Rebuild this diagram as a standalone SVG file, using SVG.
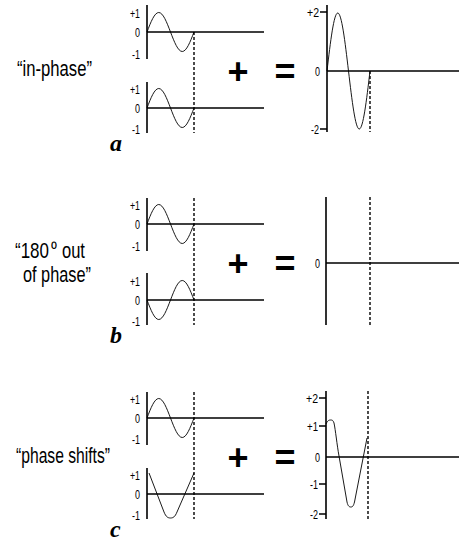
<svg xmlns="http://www.w3.org/2000/svg" xmlns:xlink="http://www.w3.org/1999/xlink" width="464" height="541" viewBox="0 0 464 541">
<style>
.ax{stroke:#000;stroke-width:1.6;fill:none}
.cv{stroke:#000;stroke-width:0.9;fill:none}
.ds{stroke:#000;stroke-width:1.4;stroke-dasharray:3 2;fill:none}
.lb{font-family:"Liberation Sans",Arial,sans-serif;font-size:13.5px;text-anchor:end;fill:#000}
.tt{font-family:"Liberation Sans",Arial,sans-serif;font-size:22.5px;fill:#000}
.sup{font-family:"Liberation Sans",Arial,sans-serif;font-size:17px;fill:#000}
.op{font-family:"Liberation Sans",Arial,sans-serif;font-weight:bold;font-size:36px;text-anchor:middle;fill:#000}
.lt{font-family:"Liberation Serif","Times New Roman",serif;font-weight:bold;font-style:italic;font-size:24px;fill:#000}
</style>
<defs>
<path id="sw" class="cv" d="M0,0 c3.83,-9.99 7.5,-19.5 11.75,-19.5 s7.92,9.51 11.75,19.5 s7.5,19.5 11.75,19.5 s7.92,-9.51 11.75,-19.5"/>
</defs>

<g id="panel-a">
  <text class="tt" transform="translate(17,76) scale(0.72,1)" textLength="104.2" lengthAdjust="spacingAndGlyphs">“in-phase”</text>
  <g id="a-wave1">
    <path class="ax" d="M147,5 V59 M147,32 H264"/>
    <use xlink:href="#sw" href="#sw" x="147" y="32"/>
    <text class="lb" x="140" y="18" textLength="10" lengthAdjust="spacingAndGlyphs">+1</text>
    <text class="lb" x="140" y="37" textLength="5" lengthAdjust="spacingAndGlyphs">0</text>
    <text class="lb" x="140" y="58.5" textLength="8" lengthAdjust="spacingAndGlyphs">-1</text>
  </g>
  <g id="a-wave2">
    <path class="ax" d="M147,82 V133 M147,108 H264"/>
    <use xlink:href="#sw" href="#sw" x="147" y="108"/>
    <text class="lb" x="140" y="94" textLength="10" lengthAdjust="spacingAndGlyphs">+1</text>
    <text class="lb" x="140" y="113" textLength="5" lengthAdjust="spacingAndGlyphs">0</text>
    <text class="lb" x="140" y="134" textLength="8" lengthAdjust="spacingAndGlyphs">-1</text>
  </g>
  <path class="ds" d="M194,32 V133"/>
  <text class="op" x="238" y="83.5">+</text>
  <text class="op" x="285" y="84">=</text>
  <g id="a-sum">
    <path class="ax" d="M327,5 V132 M327,71 H459 M320,12 H327 M320,129 H327"/>
    <path class="cv" d="M327,71 c3.51,-29.71 6.86,-58 10.75,-58 s7.24,28.29 10.75,58 s6.86,58 10.75,58 s7.24,-28.29 10.75,-58"/>
    <path class="ds" d="M370,71 V132"/>
    <text class="lb" x="319" y="16.5" textLength="12" lengthAdjust="spacingAndGlyphs">+2</text>
    <text class="lb" x="320" y="76" textLength="5" lengthAdjust="spacingAndGlyphs">0</text>
    <text class="lb" x="319" y="133.5" textLength="8" lengthAdjust="spacingAndGlyphs">-2</text>
  </g>
  <text class="lt" x="110" y="151">a</text>
</g>

<g id="panel-b">
  <text class="tt" transform="translate(15,258) scale(0.72,1)" textLength="47.2" lengthAdjust="spacingAndGlyphs">“180</text>
  <text class="sup" x="51" y="256">⁰</text>
  <text class="tt" transform="translate(62,258) scale(0.72,1)" textLength="31.9" lengthAdjust="spacingAndGlyphs">out</text>
  <text class="tt" transform="translate(23,282) scale(0.72,1)" textLength="94.4" lengthAdjust="spacingAndGlyphs">of phase”</text>
  <g id="b-wave1">
    <path class="ax" d="M147,198 V251 M147,224 H264"/>
    <use xlink:href="#sw" href="#sw" x="147" y="224"/>
    <text class="lb" x="140" y="210" textLength="10" lengthAdjust="spacingAndGlyphs">+1</text>
    <text class="lb" x="140" y="229" textLength="5" lengthAdjust="spacingAndGlyphs">0</text>
    <text class="lb" x="140" y="250.5" textLength="8" lengthAdjust="spacingAndGlyphs">-1</text>
  </g>
  <g id="b-wave2">
    <path class="ax" d="M147,273 V325 M147,300 H264"/>
    <use xlink:href="#sw" href="#sw" transform="translate(147,300) scale(1,-1)"/>
    <text class="lb" x="140" y="286" textLength="10" lengthAdjust="spacingAndGlyphs">+1</text>
    <text class="lb" x="140" y="305" textLength="5" lengthAdjust="spacingAndGlyphs">0</text>
    <text class="lb" x="140" y="326" textLength="8" lengthAdjust="spacingAndGlyphs">-1</text>
  </g>
  <path class="ds" d="M194,198 V325"/>
  <text class="op" x="238" y="275.5">+</text>
  <text class="op" x="285" y="276">=</text>
  <g id="b-sum">
    <path class="ax" d="M326,197 V325 M326,263 H459"/>
    <path class="ds" d="M370,197 V325"/>
    <text class="lb" x="320" y="268" textLength="5" lengthAdjust="spacingAndGlyphs">0</text>
  </g>
  <text class="lt" x="110" y="343">b</text>
</g>

<g id="panel-c">
  <text class="tt" transform="translate(16,463) scale(0.72,1)" textLength="130.6" lengthAdjust="spacingAndGlyphs">“phase shifts”</text>
  <g id="c-wave1">
    <path class="ax" d="M147,392 V445 M147,418 H264"/>
    <use xlink:href="#sw" href="#sw" x="147" y="418"/>
    <text class="lb" x="140" y="404" textLength="10" lengthAdjust="spacingAndGlyphs">+1</text>
    <text class="lb" x="140" y="423" textLength="5" lengthAdjust="spacingAndGlyphs">0</text>
    <text class="lb" x="140" y="444" textLength="8" lengthAdjust="spacingAndGlyphs">-1</text>
  </g>
  <g id="c-wave2">
    <path class="ax" d="M147,468 V519 M147,494 H264"/>
    <path class="cv" d="M149,473 L164,512 C166,517 168,518 170.5,518 C173,518 175,517 177,512 L194,473"/>
    <text class="lb" x="140" y="480" textLength="10" lengthAdjust="spacingAndGlyphs">+1</text>
    <text class="lb" x="140" y="499" textLength="5" lengthAdjust="spacingAndGlyphs">0</text>
    <text class="lb" x="140" y="520" textLength="8" lengthAdjust="spacingAndGlyphs">-1</text>
  </g>
  <path class="ds" d="M194,392 V519"/>
  <text class="op" x="238" y="469.5">+</text>
  <text class="op" x="285" y="470">=</text>
  <g id="c-sum">
    <path class="ax" d="M326,391 V519 M326,457 H459 M319,398 H326 M319,426 H326 M319,484 H326 M319,514 H326"/>
    <path class="cv" d="M326,424 C327.5,420.5 329,420 330.5,420 C332,420 333,420 334,423 C335.5,430 337,445 339,456 L347,502 C348,506.5 349.5,507 351,507 C352.5,507 353.5,506 354.5,502 L367,438"/>
    <path class="ds" d="M368,391 V519"/>
    <text class="lb" x="318" y="402.5" textLength="12" lengthAdjust="spacingAndGlyphs">+2</text>
    <text class="lb" x="318" y="430.5" textLength="11" lengthAdjust="spacingAndGlyphs">+1</text>
    <text class="lb" x="320" y="462" textLength="5" lengthAdjust="spacingAndGlyphs">0</text>
    <text class="lb" x="318" y="488.5" textLength="8" lengthAdjust="spacingAndGlyphs">-1</text>
    <text class="lb" x="318" y="518.5" textLength="8" lengthAdjust="spacingAndGlyphs">-2</text>
  </g>
  <text class="lt" x="110" y="537">c</text>
</g>
</svg>
